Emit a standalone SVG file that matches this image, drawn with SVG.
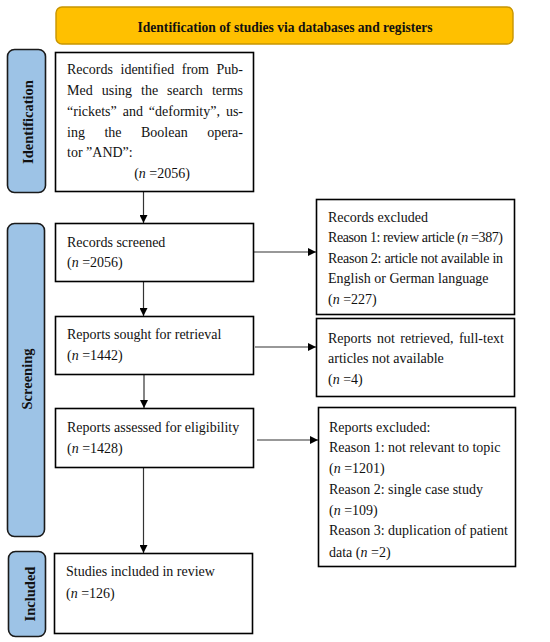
<svg xmlns="http://www.w3.org/2000/svg" width="550" height="642" viewBox="0 0 550 642">
<style>
.box{fill:#fff;stroke:#000;stroke-width:1.6}
.side{fill:#9DC3E6;stroke:#1a1a1a;stroke-width:1.6}
.t{font-family:"Liberation Serif","Times New Roman",serif;font-size:14px;fill:#111}
.b{font-family:"Liberation Serif","Times New Roman",serif;font-size:14.5px;font-weight:bold;fill:#111}
.c{stroke:#333;stroke-width:1.2;fill:none;marker-end:url(#ah)}
</style>
<defs>
<marker id="ah" viewBox="0 0 10 10" refX="10" refY="5" markerWidth="8" markerHeight="8" markerUnits="userSpaceOnUse" orient="auto">
<path d="M0,0 L10,5 L0,10 z" fill="#000"/>
</marker>
</defs>
<rect width="550" height="642" fill="#fff"/>
<g id="banner">
<rect x="56" y="7" width="457" height="37" rx="6" fill="#FFC000" stroke="#C89500" stroke-width="1.4"/>
<text class="b" x="285" y="32" text-anchor="middle" font-size="14" textLength="295" lengthAdjust="spacingAndGlyphs">Identification of studies via databases and registers</text>
</g>
<g id="side-identification">
<rect class="side" x="7.5" y="49.5" width="38" height="143" rx="7"/>
<text class="b" transform="translate(33,122) rotate(-90)" text-anchor="middle">Identification</text>
</g>
<g id="side-screening">
<rect class="side" x="7.5" y="223.5" width="37" height="313" rx="7"/>
<text class="b" transform="translate(32,379) rotate(-90)" text-anchor="middle">Screening</text>
</g>
<g id="side-included">
<rect class="side" x="8.5" y="551.5" width="37" height="85" rx="7"/>
<text class="b" transform="translate(35,594) rotate(-90)" text-anchor="middle">Included</text>
</g>
<g id="connectors">
<line class="c" x1="143.5" y1="192" x2="143.5" y2="223"/>
<line class="c" x1="143.5" y1="282" x2="143.5" y2="316"/>
<line class="c" x1="144" y1="375" x2="144" y2="408"/>
<line class="c" x1="143.5" y1="468" x2="143.5" y2="553"/>
<line class="c" x1="254" y1="252" x2="316" y2="252"/>
<line class="c" x1="255" y1="347" x2="316" y2="347"/>
<line class="c" x1="257" y1="440" x2="318" y2="440"/>
</g>
<g id="records-identified">
<rect class="box" x="55.5" y="52.5" width="198" height="139"/>
<text class="t" y="74"><tspan x="67">Records</tspan><tspan x="120.5">identified</tspan><tspan x="181.8">from</tspan></text>
<text class="t" x="243" y="74" text-anchor="end">Pub-</text>
<text class="t" y="95"><tspan x="67">Med</tspan><tspan x="101.7">using</tspan><tspan x="141">the</tspan><tspan x="167.1">search</tspan></text>
<text class="t" x="243" y="95" text-anchor="end">terms</text>
<text class="t" y="116"><tspan x="67">“rickets”</tspan><tspan x="122.7">and</tspan><tspan x="148.8">“deformity”,</tspan></text>
<text class="t" x="243" y="116" text-anchor="end">us-</text>
<text class="t" y="137"><tspan x="67">ing</tspan><tspan x="104.4">the</tspan><tspan x="141">Boolean</tspan></text>
<text class="t" x="243" y="137" text-anchor="end">opera-</text>
<text class="t" x="67" y="157">tor ”AND”:</text>
<text class="t" x="162" y="178" text-anchor="middle">(<tspan font-style="italic">n</tspan> =2056)</text>
</g>
<g id="records-screened">
<rect class="box" x="55.5" y="223.5" width="198" height="58"/>
<text class="t" x="67" y="247">Records screened</text>
<text class="t" x="67" y="267">(<tspan font-style="italic">n</tspan> =2056)</text>
</g>
<g id="records-excluded">
<rect class="box" x="316.5" y="199.5" width="198" height="115"/>
<text class="t" x="328" y="222">Records excluded</text>
<text class="t" x="328" y="242" textLength="175" lengthAdjust="spacing">Reason 1: review article (<tspan font-style="italic">n</tspan> =387)</text>
<text class="t" x="328" y="263" textLength="175" lengthAdjust="spacing">Reason 2: article not available in</text>
<text class="t" x="328" y="283">English or German language</text>
<text class="t" x="328" y="304">(<tspan font-style="italic">n</tspan> =227)</text>
</g>
<g id="reports-sought">
<rect class="box" x="55.5" y="316.5" width="198" height="58"/>
<text class="t" x="67" y="339">Reports sought for retrieval</text>
<text class="t" x="67" y="360">(<tspan font-style="italic">n</tspan> =1442)</text>
</g>
<g id="reports-not-retrieved">
<rect class="box" x="316.5" y="318.5" width="198" height="78"/>
<text class="t" y="343"><tspan x="328">Reports</tspan><tspan x="377">not</tspan><tspan x="400.3">retrieved,</tspan></text>
<text class="t" x="504" y="343" text-anchor="end">full-text</text>
<text class="t" x="328" y="363">articles not available</text>
<text class="t" x="328" y="384">(<tspan font-style="italic">n</tspan> =4)</text>
</g>
<g id="reports-assessed">
<rect class="box" x="55.5" y="408.5" width="198" height="59"/>
<text class="t" x="67" y="432">Reports assessed for eligibility</text>
<text class="t" x="67" y="453">(<tspan font-style="italic">n</tspan> =1428)</text>
</g>
<g id="reports-excluded">
<rect class="box" x="318.5" y="407.5" width="197" height="159"/>
<text class="t" x="329" y="432">Reports excluded:</text>
<text class="t" x="329" y="452">Reason 1: not relevant to topic</text>
<text class="t" x="329" y="473">(<tspan font-style="italic">n</tspan> =1201)</text>
<text class="t" x="329" y="494">Reason 2: single case study</text>
<text class="t" x="329" y="515">(<tspan font-style="italic">n</tspan> =109)</text>
<text class="t" x="329" y="535">Reason 3: duplication of patient</text>
<text class="t" x="329" y="557">data (<tspan font-style="italic">n</tspan> =2)</text>
</g>
<g id="studies-included">
<rect class="box" x="54.5" y="553.5" width="198" height="80"/>
<text class="t" x="66" y="576">Studies included in review</text>
<text class="t" x="66" y="598">(<tspan font-style="italic">n</tspan> =126)</text>
</g>
</svg>
